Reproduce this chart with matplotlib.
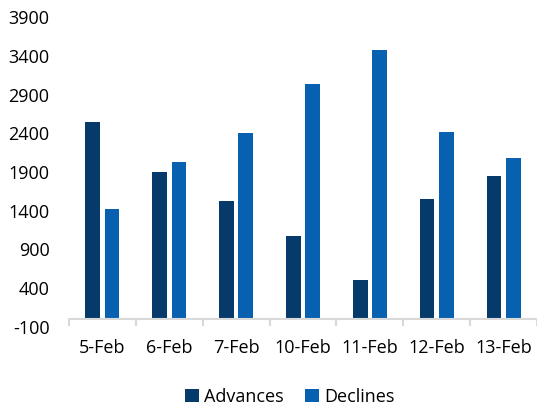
import numpy as np
import matplotlib
matplotlib.use("Agg")
from matplotlib import pyplot as plt
from matplotlib.ticker import FixedLocator

dates = ['5-Feb', '6-Feb', '7-Feb', '10-Feb', '11-Feb', '12-Feb', '13-Feb']
advances = [2545, 1900, 1530, 1070, 505, 1555, 1850]
declines = [1425, 2030, 2400, 3040, 3480, 2415, 2080]
yticks = [-100, 400, 900, 1400, 1900, 2400, 2900, 3400, 3900]

plt.rcParams['font.family'] = ['Open Sans', 'DejaVu Sans']
plt.rcParams['axes.unicode_minus'] = False

fig = plt.figure(figsize=(5.37, 4.08), dpi=100)
ax = fig.add_axes([69 / 537, 1 - 327 / 408, 1 - 69 / 537, (327 - 17) / 408])

x = np.arange(len(dates))
w = 0.22
ax.bar(x - 0.145, advances, w, color='#063a6b', label='Advances')
ax.bar(x + 0.145, declines, w, color='#0761b0', label='Declines')

ax.set_xlim(-0.5, len(dates) - 0.5)
ax.set_ylim(-100, 3900)
ax.set_yticks(yticks)
ax.set_xticks(x)
ax.set_xticklabels(dates)
ax.xaxis.set_minor_locator(FixedLocator(np.arange(-0.5, len(dates), 1.0)))

for s in ['left', 'right', 'top']:
    ax.spines[s].set_visible(False)
ax.spines['bottom'].set_position(('data', 0))
ax.spines['bottom'].set_color('#d9d9d9')
ax.spines['bottom'].set_linewidth(1.5)

ax.tick_params(axis='y', length=0, pad=14, labelsize=13, labelcolor='#000000')
ax.tick_params(axis='x', which='major', length=0, pad=14, labelsize=13)
ax.tick_params(axis='x', which='minor', length=5, width=1.5, color='#d9d9d9', direction='out')

fig.legend(loc='lower center', bbox_to_anchor=(0.54, -0.035), ncol=2, frameon=False,
           fontsize=13, handlelength=0.75, handleheight=0.75, handletextpad=0.3,
           columnspacing=1.2)

fig.savefig('out.png', dpi=100)
